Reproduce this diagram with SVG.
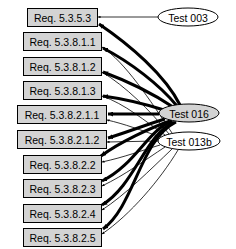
<svg xmlns="http://www.w3.org/2000/svg" width="236" height="249" viewBox="0 0 236 249">
<style>
.box{fill:#d3d3d3;stroke:#000;stroke-width:1}
.ell{fill:#fff;stroke:#000;stroke-width:1}
.ell.g{fill:#d3d3d3}
text{font-family:"Liberation Sans",Arial,sans-serif;font-size:10.5px;fill:#000;text-anchor:middle;dominant-baseline:central}
.thick{fill:none;stroke:#000;stroke-width:3;marker-end:url(#ah)}
.thin{fill:none;stroke:#000;stroke-width:0.8;marker-end:url(#as)}
</style>
<defs>
<marker id="ah" markerUnits="userSpaceOnUse" viewBox="0 0 10 10" refX="10" refY="5" markerWidth="5" markerHeight="5" orient="auto"><path d="M0,0 L10,5 L0,10 z" fill="#000"/></marker>
<marker id="as" markerUnits="userSpaceOnUse" viewBox="0 0 10 10" refX="10" refY="5" markerWidth="3" markerHeight="2.5" orient="auto"><path d="M0,0 L10,5 L0,10 z" fill="#000"/></marker>
</defs>
<rect width="236" height="249" fill="#fff"/>
<g id="connectors">
<path class="thin" d="M158,17 L98,17"/>
<path class="thin" d="M172,133 C150,100 125,62 102,47"/>
<path class="thin" d="M169,134 C150,110 125,86 102,72"/>
<path class="thin" d="M165,135 C145,121 125,104 102,96"/>
<path class="thin" d="M161,137 C140,130 125,124 107,120"/>
<path class="thin" d="M158,141 L107,142"/>
<path class="thin" d="M160,145 C140,151 125,157 102,162"/>
<path class="thin" d="M165,147 C145,160 125,175 102,186"/>
<path class="thin" d="M172,149 C150,170 125,195 102,210"/>
<path class="thin" d="M178,150 C160,180 130,215 102,234"/>
<path class="thick" d="M180,105 C165,75 130,45 99,24"/>
<path class="thick" d="M177,106 C160,85 130,62 103,48"/>
<path class="thick" d="M173,107 C155,95 130,82 103,72"/>
<path class="thick" d="M164,110 C145,104 125,99 103,96"/>
<path class="thick" d="M159,114 L108,114"/>
<path class="thick" d="M165,119 C145,125 125,133 108,138"/>
<path class="thick" d="M170,121 C150,128 120,142 101,156"/>
<path class="thick" d="M172,121 C148,130 135,165 102,181"/>
<path class="thick" d="M174,122 C145,135 135,185 102,205"/>
<path class="thick" d="M176,122 C140,140 135,205 103,229"/>
</g>
<g id="req-5.3.5.3"><rect class="box" x="27.5" y="8.5" width="70" height="18"/><text x="62.5" y="17.5">Req. 5.3.5.3</text></g>
<g id="req-5.3.8.1.1"><rect class="box" x="23.5" y="32.5" width="78" height="18"/><text x="62.5" y="41.5">Req. 5.3.8.1.1</text></g>
<g id="req-5.3.8.1.2"><rect class="box" x="23.5" y="57.5" width="78" height="18"/><text x="62.5" y="66.5">Req. 5.3.8.1.2</text></g>
<g id="req-5.3.8.1.3"><rect class="box" x="23.5" y="81.5" width="78" height="18"/><text x="62.5" y="90.5">Req. 5.3.8.1.3</text></g>
<g id="req-5.3.8.2.1.1"><rect class="box" x="17.5" y="105.5" width="89" height="18"/><text x="62" y="114.5">Req. 5.3.8.2.1.1</text></g>
<g id="req-5.3.8.2.1.2"><rect class="box" x="17.5" y="130.5" width="89" height="18"/><text x="62" y="139.5">Req. 5.3.8.2.1.2</text></g>
<g id="req-5.3.8.2.2"><rect class="box" x="23.5" y="155.5" width="78" height="18"/><text x="62.5" y="164.5">Req. 5.3.8.2.2</text></g>
<g id="req-5.3.8.2.3"><rect class="box" x="23.5" y="179.5" width="78" height="18"/><text x="62.5" y="188.5">Req. 5.3.8.2.3</text></g>
<g id="req-5.3.8.2.4"><rect class="box" x="23.5" y="204.5" width="78" height="18"/><text x="62.5" y="213.5">Req. 5.3.8.2.4</text></g>
<g id="req-5.3.8.2.5"><rect class="box" x="23.5" y="228.5" width="78" height="18"/><text x="62.5" y="237.5">Req. 5.3.8.2.5</text></g>
<g id="test-003"><ellipse class="ell" cx="188" cy="17" rx="30" ry="9"/><text x="188" y="17.5">Test 003</text></g>
<g id="test-016"><ellipse class="ell g" cx="189" cy="113" rx="30" ry="9"/><text x="189" y="113.5">Test 016</text></g>
<g id="test-013b"><ellipse class="ell" cx="189" cy="141" rx="31" ry="9"/><text x="189" y="141.5">Test 013b</text></g>
</svg>
